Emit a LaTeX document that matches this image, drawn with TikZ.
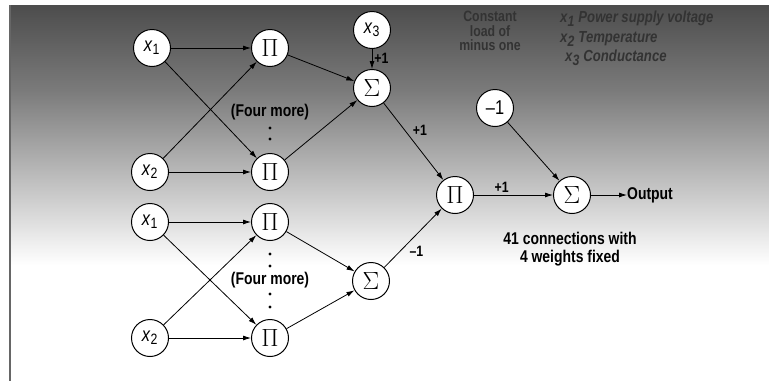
\documentclass[tikz,border=0pt]{standalone}
\usepackage{fontspec}
\setmainfont{Liberation Sans}[FakeStretch=0.82]
\usetikzlibrary{arrows.meta}
\newcommand{\vx}[1]{\textit{x}\textsubscript{\fontsize{15}{15}\selectfont #1}}
\newcommand{\bigop}[1]{{\fontsize{23}{24}\selectfont$#1$}}
\begin{document}
\begin{tikzpicture}[x=1pt,y=-1pt,
  neuron/.style={circle,draw=black,fill=white,line width=1pt,minimum size=37pt,inner sep=0pt,font=\fontsize{20}{22}\selectfont},
  conn/.style={-{Latex[length=8pt,width=5pt]},line width=0.8pt},
  wlabel/.style={font=\bfseries\fontsize{15}{16}\selectfont,inner sep=2pt},
  note/.style={font=\bfseries\fontsize{17}{18}\selectfont,align=center,inner sep=0pt},
  legend/.style={font=\bfseries\itshape\fontsize{16}{17}\selectfont,text=black!80,inner sep=0pt,anchor=west}]
\useasboundingbox (0,0) rectangle (769,381);
\fill[white] (0,0) rectangle (769,381);
% gradient background
\shade[top color=black!70,bottom color=black!52] (10,5) rectangle (769,90);
\shade[top color=black!52,bottom color=white] (10,90) rectangle (769,265);
\draw[black!60,line width=1.2pt] (10,5) -- (10,381);
% nodes
\node[neuron] (x1a) at (152,48) {\vx{1}};
\node[neuron] (pa) at (270,48) {\bigop{\Pi}};
\node[neuron] (x3) at (372,30) {\vx{3}};
\node[neuron] (sa) at (372,88) {\bigop{\Sigma}};
\node[neuron] (x2a) at (150,172) {\vx{2}};
\node[neuron] (pb) at (270,172) {\bigop{\Pi}};
\node[neuron] (x1b) at (150,222) {\vx{1}};
\node[neuron] (pc) at (270,222) {\bigop{\Pi}};
\node[neuron] (sb) at (371,281) {\bigop{\Sigma}};
\node[neuron] (x2b) at (150,338) {\vx{2}};
\node[neuron] (pd) at (270,338) {\bigop{\Pi}};
\node[neuron] (pe) at (455,195) {\bigop{\Pi}};
\node[neuron] (m1) at (495,108) {\textendash1};
\node[neuron] (so) at (572,195) {\bigop{\Sigma}};
\node[note,anchor=west] (out) at (627,195) {Output};
% four more labels
\node[note] (fm1) at (270,112) {(Four more)};
\node[note] (fm2) at (270,280) {(Four more)};
\foreach \y in {128,139} \fill (270,\y) circle (1.6pt);
\foreach \y in {254,266,294,307} \fill (270,\y) circle (1.6pt);
\node[note] (cw) at (570,249) {41 connections with\\4 weights fixed};
% legend
\node[note,text=black!80,font=\bfseries\fontsize{15}{14.5}\selectfont] (cl) at (490,31) {Constant\\load of\\minus one};
\node[legend] (l1) at (560,19) {\vx{1} Power supply voltage};
\node[legend] (l2) at (560,39) {\vx{2} Temperature};
\node[legend] (l3) at (565,58) {\vx{3} Conductance};
% connections
\draw[conn] (x1a) -- (pa);
\draw[conn] (x1a) -- (pb);
\draw[conn] (x2a) -- (pa);
\draw[conn] (x2a) -- (pb);
\draw[conn] (pa) -- (sa);
\draw[conn] (pb) -- (sa);
\draw[conn] (x3) -- node[wlabel,right,pos=0.45] {+1} (sa);
\draw[conn] (x1b) -- (pc);
\draw[conn] (x1b) -- (pd);
\draw[conn] (x2b) -- (pc);
\draw[conn] (x2b) -- (pd);
\draw[conn] (pc) -- (sb);
\draw[conn] (pd) -- (sb);
\draw[conn] (sa) -- node[wlabel,above right,pos=0.45] {+1} (pe);
\draw[conn] (sb) -- node[wlabel,below right,pos=0.4] {\textendash1} (pe);
\draw[conn] (pe) -- node[wlabel,above,pos=0.35] {+1} (so);
\draw[conn] (m1) -- (so);
\draw[conn] (so) -- (out);
\end{tikzpicture}
\end{document}
